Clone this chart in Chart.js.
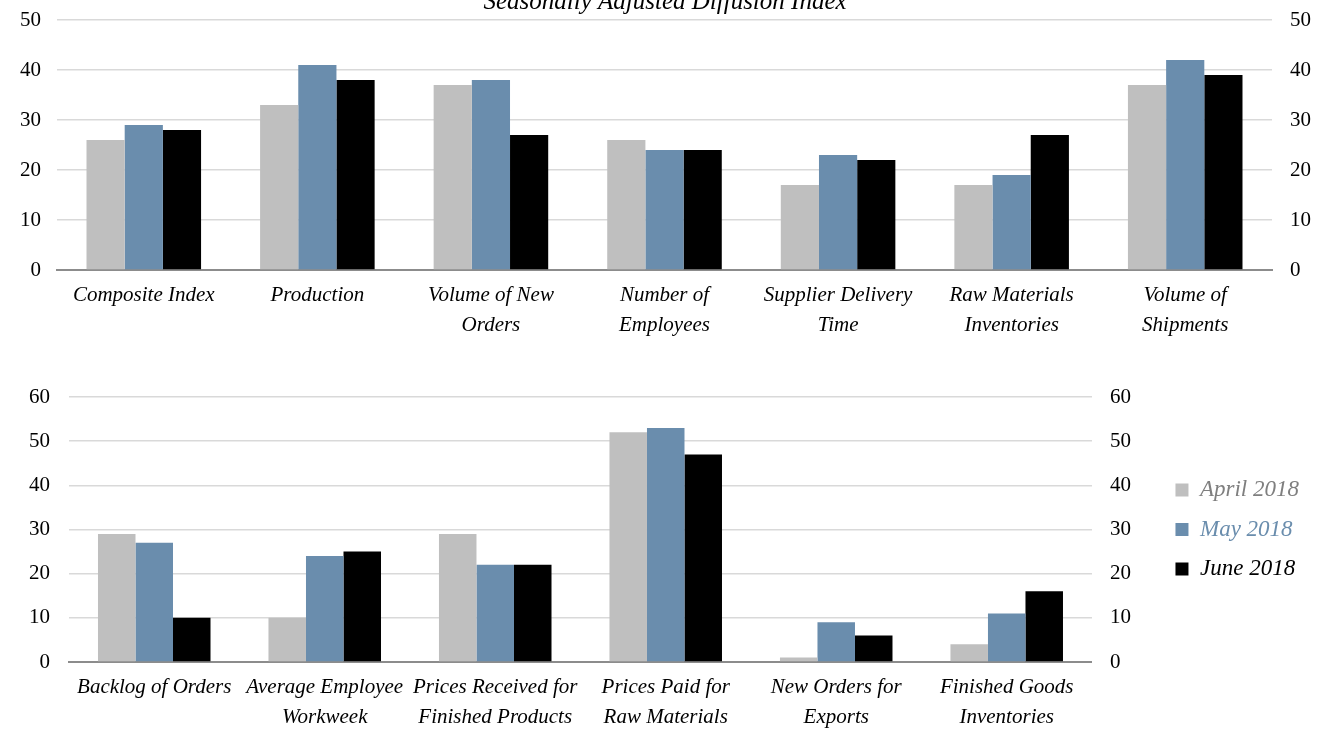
<!DOCTYPE html>
<html>
<head>
<meta charset="utf-8">
<script src="https://cdn.jsdelivr.net/npm/chart.js@4"></script>
<style>
  body { margin: 0; background: #fff; width: 1330px; height: 730px; overflow: hidden; position: relative; }
  canvas { position: absolute; left: 0; }
  #chartTop { top: -13px; }
  #chartBottom { top: 346px; }
</style>
</head>
<body>
<canvas id="chartTop" width="1330" height="359"></canvas>
<canvas id="chartBottom" width="1330" height="384"></canvas>
<script>
// etiquetas y valores
const topCategories = ['Composite Index', 'Production', ['Volume of New', 'Orders'], ['Number of', 'Employees'],
    ['Supplier Delivery', 'Time'], ['Raw Materials', 'Inventories'], ['Volume of', 'Shipments']];
const topApril = [26, 33, 37, 26, 17, 17, 37];
const topMay = [29, 41, 38, 24, 23, 19, 42];
const topJune = [28, 38, 27, 24, 22, 27, 39];

const bottomCategories = ['Backlog of Orders', ['Average Employee', 'Workweek'], ['Prices Received for', 'Finished Products'],
    ['Prices Paid for', 'Raw Materials'], ['New Orders for', 'Exports'], ['Finished Goods', 'Inventories']];
const bottomApril = [29, 10, 29, 52, 1, 4];
const bottomMay = [27, 24, 22, 53, 9, 11];
const bottomJune = [10, 25, 22, 47, 6, 16];

const seriesNames = ['April 2018', 'May 2018', 'June 2018'];
const seriesColors = ['#bfbfbf', '#6a8dad', '#000000'];
const legendTextColors = ['#7f7f7f', '#6a8dad', '#000000'];

const serif = 'Liberation Serif, Times New Roman, serif';

function makeDatasets(a, m, j) {
    return [a, m, j].map((vals, i) => ({
        label: seriesNames[i],
        data: vals,
        backgroundColor: seriesColors[i],
        borderWidth: 0,
        barPercentage: 1,
        categoryPercentage: 0.66,
        yAxisID: 'y',
    }));
}

function makeScales(max, leftW, leftPad, rightW, xH) {
    return {
        x: {
            grid: { display: false },
            border: { display: true, color: '#8c8c8c', width: 2 },
            ticks: {
                color: '#000',
                padding: 2,
                maxRotation: 0,
                autoSkip: false,
                font: { family: serif, size: 21, style: 'italic', lineHeight: '30px' },
            },
            afterFit: (s) => { s.height = xH; },
        },
        y: {
            position: 'left',
            min: 0,
            max: max,
            ticks: { stepSize: 10, color: '#000', padding: leftPad, font: { family: serif, size: 21 } },
            grid: { color: '#d9d9d9', lineWidth: 1.5, drawTicks: false },
            border: { display: false },
            afterFit: (s) => { s.width = leftW; },
        },
        y2: {
            position: 'right',
            min: 0,
            max: max,
            ticks: { stepSize: 10, color: '#000', padding: 18, font: { family: serif, size: 21 } },
            grid: { drawOnChartArea: false, drawTicks: false },
            border: { display: false },
            afterFit: (s) => { s.width = rightW; },
        },
    };
}

new Chart(document.getElementById('chartTop'), {
    type: 'bar',
    data: { labels: topCategories, datasets: makeDatasets(topApril, topMay, topJune) },
    options: {
        responsive: false,
        animation: false,
        layout: { padding: 0 },
        scales: makeScales(50, 57, 16, 58, 76),
        plugins: {
            legend: { display: false },
            tooltip: { enabled: false },
            title: {
                display: true,
                text: 'Seasonally Adjusted Diffusion Index',
                color: '#000',
                font: { family: serif, size: 25, style: 'italic', weight: 'normal', lineHeight: 1.2 },
                padding: { top: 0, bottom: 3 },
            },
        },
    },
});

new Chart(document.getElementById('chartBottom'), {
    type: 'bar',
    data: { labels: bottomCategories, datasets: makeDatasets(bottomApril, bottomMay, bottomJune) },
    options: {
        responsive: false,
        animation: false,
        layout: { padding: { left: 0, right: 21, top: 51, bottom: 0 } },
        scales: makeScales(60, 69, 19, 67, 68),
        plugins: {
            tooltip: { enabled: false },
            legend: {
                position: 'right',
                align: 'center',
                fullSize: false,
                labels: {
                    boxWidth: 13,
                    boxHeight: 13,
                    padding: 16.5,
                    font: { family: serif, size: 23, style: 'italic' },
                    generateLabels: (chart) => chart.data.datasets.map((ds, i) => ({
                        text: ds.label,
                        fillStyle: seriesColors[i],
                        strokeStyle: seriesColors[i],
                        lineWidth: 0,
                        fontColor: legendTextColors[i],
                        hidden: false,
                        datasetIndex: i,
                    })),
                },
            },
        },
    },
});
</script>
</body>
</html>
